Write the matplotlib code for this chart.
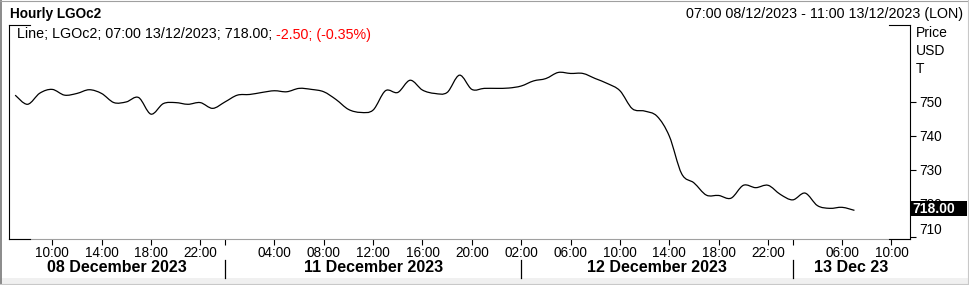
import numpy as np
import matplotlib
matplotlib.use('Agg')
import matplotlib.pyplot as plt
from matplotlib.path import Path
from matplotlib.patches import PathPatch, Rectangle
from matplotlib.transforms import blended_transform_factory
from matplotlib.lines import Line2D

plt.rcParams['font.family'] = ['Liberation Sans', 'DejaVu Sans']

# ---------------- data ----------------
title = 'Hourly LGOc2'
range_text = '07:00 08/12/2023 - 11:00 13/12/2023 (LON)'
legend_main = 'Line; LGOc2; 07:00 13/12/2023; 718.00; '
legend_change = '-2.50; (-0.35%)'
units = ['Price', 'USD', 'T']

# hourly closes, one per trading-hour slot starting 07:00 08 Dec 2023
prices = [752.0, 749.3, 752.6, 753.7, 752.0, 752.5, 753.6, 752.5, 749.8, 750.0,
          751.3, 746.4, 749.5, 749.8, 749.3, 749.8, 748.1, 750.0, 752.0, 752.2,
          752.8, 753.3, 753.0, 754.0, 753.7, 753.0, 750.7, 747.8, 746.9, 747.6,
          753.3, 752.8, 756.4, 753.5, 752.5, 752.8, 757.9, 753.7, 754.0, 754.0,
          754.1, 754.7, 756.2, 756.9, 758.7, 758.4, 758.4, 756.9, 755.4, 753.3,
          748.0, 747.3, 745.8, 739.9, 728.8, 726.1, 722.5, 722.4, 721.6, 725.4,
          724.7, 725.4, 722.7, 721.1, 723.1, 719.4, 718.6, 718.9, 718.0]

tick_slots = [3, 7, 11, 15, 17, 21, 25, 29, 33, 37, 41, 45, 49, 53, 57, 61, 63, 67, 71]
tick_labels = ['10:00', '14:00', '18:00', '22:00', '', '04:00', '08:00', '12:00',
               '16:00', '20:00', '02:00', '06:00', '10:00', '14:00', '18:00',
               '22:00', '', '06:00', '10:00']
day_breaks = [17, 41, 63]
day_labels = ['08 December 2023', '11 December 2023', '12 December 2023', '13 Dec 23']
y_ticks = [710, 720, 730, 740, 750]
x_range = (-0.5, 72.5)
y_range = (709.7, 772.7)

# ---------------- figure ----------------
W, H = 969, 285
fig = plt.figure(figsize=(W / 100, H / 100), dpi=100)
fig.patch.set_facecolor('white')

# bottom light band and outer border
fig.patches.append(Rectangle((0, 0), 1, 7 / H, transform=fig.transFigure,
                             facecolor='#f0f0f0', edgecolor='none', zorder=0))
fig.lines.append(Line2D([1 / W, 1 / W], [0, 1], transform=fig.transFigure,
                        color='#8a8a8a', lw=1.4))
fig.lines.append(Line2D([0, 1], [1 - 0.5 / H, 1 - 0.5 / H], transform=fig.transFigure,
                        color='#a0a0a0', lw=0.8))
fig.lines.append(Line2D([1 - 1.5 / W, 1 - 1.5 / W], [0, 1], transform=fig.transFigure,
                        color='#c8c8c8', lw=0.8))
fig.lines.append(Line2D([0, 1], [1.5 / H, 1.5 / H], transform=fig.transFigure,
                        color='#c8c8c8', lw=0.8))

left_px, right_px, top_px, bot_px = 9, 910, 25, 238.5
ax = fig.add_axes([left_px / W, (H - bot_px) / H, (right_px - left_px) / W,
                   (bot_px - top_px) / H])
ax.set_xlim(*x_range)
ax.set_ylim(*y_range)
for s in ax.spines.values():
    s.set_visible(False)

# frame pieces
ax.plot([0, 1], [0, 0], transform=ax.transAxes, color='#a0a0a0', lw=0.8, clip_on=False)
ax.plot([0, 0], [0, 1], transform=ax.transAxes, color='black', lw=0.8, clip_on=False)
ax.plot([1, 1], [0, 1], transform=ax.transAxes, color='black', lw=0.8, clip_on=False)
seg = 21 / (right_px - left_px)
for yy in (0, 1):
    ax.plot([0, seg], [yy, yy], transform=ax.transAxes, color='black', lw=0.8, clip_on=False)
    ax.plot([1 - seg, 1], [yy, yy], transform=ax.transAxes, color='black', lw=0.8, clip_on=False)

# smooth line through hourly closes (Catmull-Rom as cubic Bezier)
xs = np.arange(len(prices), dtype=float)
ys = np.array(prices, dtype=float)
pts = np.column_stack([xs, ys])
ext = np.vstack([pts[0], pts, pts[-1]])
verts = [tuple(pts[0])]
codes = [Path.MOVETO]
for i in range(len(pts) - 1):
    p0, p1, p2, p3 = ext[i], ext[i + 1], ext[i + 2], ext[i + 3]
    c1 = p1 + (p2 - p0) / 6.0
    c2 = p2 - (p3 - p1) / 6.0
    verts += [tuple(c1), tuple(c2), tuple(p2)]
    codes += [Path.CURVE4] * 3
ax.add_patch(PathPatch(Path(verts, codes), facecolor='none', edgecolor='black',
                       lw=0.9, zorder=3))

# x ticks
ax.set_xticks(tick_slots)
ax.set_xticklabels(tick_labels)
ax.tick_params(axis='x', direction='out', length=4, width=0.8, pad=1.5,
               labelsize=9.8, colors='black')

# y ticks on right
ax.yaxis.tick_right()
ax.set_yticks(y_ticks)
ax.set_yticklabels([str(v) for v in y_ticks])
ax.tick_params(axis='y', direction='out', length=4, width=0.8, pad=2.5,
               labelsize=9.8, colors='black')
for lbl in ax.get_yticklabels():
    if lbl.get_text() == str(y_ticks[0]):
        lbl.set_va('bottom')

# day separators and labels
bt = blended_transform_factory(ax.transData, fig.transFigure)
for b in day_breaks:
    fig.lines.append(Line2D([b, b], [1 - 260 / H, 1 - 278 / H], transform=bt,
                            color='black', lw=0.9))
bounds = [x_range[0]] + day_breaks + [x_range[1]]
for i, lab in enumerate(day_labels):
    cx = (bounds[i] + bounds[i + 1]) / 2
    fig.text(cx, 1 - 268 / H, lab, transform=bt, ha='center', va='center',
             fontsize=11.5, fontweight='bold')

# titles
fig.text(10 / W, 1 - 14 / H, title, ha='left', va='center', fontsize=9.8,
         fontweight='bold')
fig.text(963 / W, 1 - 14 / H, range_text, ha='right', va='center', fontsize=10.3)

# legend line
t1 = fig.text(17 / W, 1 - 34.5 / H, legend_main, ha='left', va='center', fontsize=10.3)
fig.texts.append(t1) if False else None
ax.annotate(legend_change, xy=(1, 0.5), xycoords=t1, ha='left', va='center',
            fontsize=10.3, color='#ff0000', annotation_clip=False)

# units labels
for i, u in enumerate(units):
    fig.text(916 / W, 1 - (33 + 18 * i) / H, u, ha='left', va='center', fontsize=10)

# last value box
y_disp = ax.transData.transform((0, prices[-1]))[1]
yc = y_disp / H + 1.4 / H
fig.patches.append(Rectangle((910 / W, yc - 7.5 / H), 57 / W, 15 / H,
                             transform=fig.transFigure, facecolor='black',
                             edgecolor='none', zorder=5))
fig.text(912 / W, yc, f'{prices[-1]:.2f}', ha='left', va='center', fontsize=10,
         fontweight='bold', color='white', zorder=6)

fig.savefig('out.png', dpi=100)
